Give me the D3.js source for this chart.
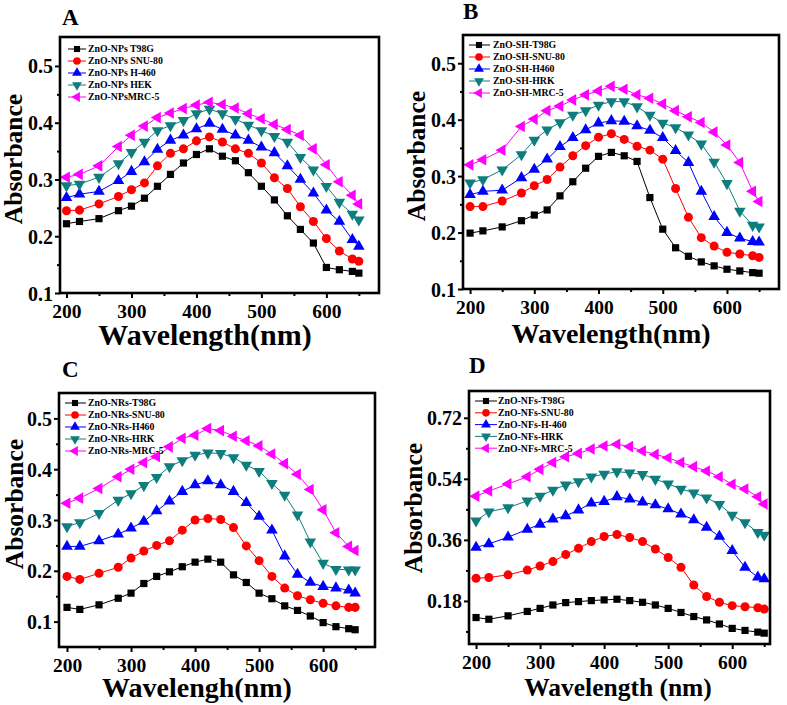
<!DOCTYPE html>
<html>
<head>
<meta charset="utf-8">
<script src="https://cdn.jsdelivr.net/npm/d3@7"></script>
<style>
  html, body { margin: 0; padding: 0; background: #fff; }
  svg { display: block; }
  text { font-family: "Liberation Serif", "Times New Roman", serif; font-weight: bold; fill: #000; }
</style>
</head>
<body>
<svg id="chart" width="787" height="705"></svg>
<script>
// ---------------- DATA ----------------
const wavelengths = [200,220,250,280,300,320,340,360,380,400,420,440,460,480,500,520,540,560,580,600,620,640,650];

// Panel A (ZnO-NPs)
const aT98G  = [0.222,0.226,0.231,0.245,0.253,0.267,0.288,0.309,0.329,0.344,0.354,0.341,0.333,0.312,0.288,0.264,0.236,0.212,0.188,0.145,0.141,0.138,0.135];
const aSNU80 = [0.245,0.246,0.257,0.270,0.282,0.294,0.324,0.346,0.354,0.368,0.375,0.366,0.354,0.346,0.329,0.303,0.284,0.252,0.226,0.196,0.174,0.160,0.156];
const aH460  = [0.268,0.274,0.279,0.298,0.314,0.331,0.353,0.369,0.378,0.389,0.399,0.388,0.378,0.369,0.357,0.347,0.324,0.300,0.276,0.246,0.226,0.194,0.182];
const aHEK   = [0.289,0.292,0.304,0.328,0.348,0.366,0.386,0.395,0.404,0.416,0.424,0.416,0.406,0.396,0.386,0.376,0.366,0.339,0.317,0.288,0.260,0.239,0.229];
const aMRC5  = [0.304,0.309,0.324,0.358,0.378,0.394,0.409,0.417,0.425,0.431,0.436,0.432,0.426,0.416,0.407,0.397,0.388,0.378,0.354,0.326,0.296,0.272,0.257];

// Panel B (ZnO-SH)
const bT98G  = [0.199,0.203,0.210,0.221,0.231,0.240,0.265,0.290,0.314,0.335,0.342,0.336,0.326,0.262,0.206,0.173,0.158,0.148,0.141,0.135,0.132,0.129,0.128];
const bSNU80 = [0.246,0.246,0.256,0.270,0.283,0.294,0.316,0.336,0.354,0.369,0.375,0.365,0.353,0.346,0.330,0.278,0.227,0.191,0.176,0.165,0.162,0.159,0.156];
const bH460  = [0.267,0.273,0.275,0.297,0.312,0.330,0.352,0.368,0.382,0.394,0.398,0.397,0.389,0.381,0.368,0.345,0.324,0.273,0.228,0.200,0.190,0.184,0.183];
const bHRK   = [0.288,0.294,0.311,0.338,0.364,0.382,0.395,0.408,0.416,0.426,0.432,0.432,0.423,0.408,0.394,0.386,0.373,0.357,0.325,0.287,0.238,0.213,0.210];
const bMRC5  = [0.320,0.329,0.346,0.388,0.401,0.416,0.424,0.435,0.444,0.451,0.459,0.454,0.444,0.438,0.428,0.416,0.405,0.395,0.378,0.355,0.324,0.273,0.255];

// Panel C (ZnO-NRs)
const cT98G  = [0.128,0.124,0.133,0.146,0.156,0.175,0.189,0.198,0.208,0.217,0.223,0.217,0.192,0.177,0.156,0.145,0.131,0.122,0.111,0.098,0.090,0.086,0.084];
const cSNU80 = [0.189,0.183,0.195,0.207,0.225,0.239,0.250,0.259,0.280,0.300,0.303,0.301,0.285,0.249,0.220,0.189,0.166,0.151,0.143,0.136,0.131,0.128,0.128];
const cH460  = [0.248,0.248,0.259,0.272,0.284,0.297,0.318,0.337,0.356,0.369,0.377,0.369,0.356,0.334,0.307,0.280,0.229,0.193,0.177,0.169,0.166,0.162,0.156];
const cHRK   = [0.287,0.295,0.313,0.339,0.352,0.368,0.384,0.405,0.417,0.428,0.432,0.431,0.423,0.408,0.396,0.372,0.349,0.310,0.257,0.215,0.203,0.202,0.202];
const cMRC5  = [0.333,0.343,0.362,0.385,0.400,0.413,0.425,0.444,0.461,0.467,0.480,0.476,0.465,0.456,0.446,0.430,0.411,0.390,0.360,0.320,0.275,0.248,0.240];

// Panel D (ZnO-NFs)
const dT98G  = [0.131,0.126,0.136,0.149,0.158,0.168,0.175,0.178,0.181,0.183,0.185,0.181,0.176,0.168,0.158,0.146,0.134,0.124,0.112,0.099,0.093,0.088,0.085];
const dSNU80 = [0.247,0.249,0.257,0.271,0.283,0.296,0.317,0.335,0.355,0.370,0.376,0.367,0.355,0.333,0.308,0.279,0.227,0.193,0.176,0.166,0.163,0.160,0.156];
const dH460  = [0.338,0.348,0.368,0.391,0.406,0.421,0.431,0.448,0.468,0.473,0.487,0.480,0.471,0.463,0.451,0.436,0.419,0.397,0.370,0.328,0.279,0.250,0.245];
const dHRK   = [0.416,0.443,0.455,0.475,0.489,0.507,0.522,0.532,0.546,0.554,0.561,0.558,0.553,0.539,0.525,0.510,0.499,0.484,0.465,0.433,0.411,0.382,0.374];
const dMRC5  = [0.489,0.504,0.525,0.546,0.568,0.588,0.605,0.615,0.628,0.637,0.642,0.635,0.622,0.612,0.602,0.588,0.576,0.563,0.546,0.524,0.510,0.487,0.466];

// Legend labels
const labelsA = ["ZnO-NPs T98G","ZnO-NPs SNU-80","ZnO-NPs H-460","ZnO-NPs HEK","ZnO-NPsMRC-5"];
const labelsB = ["ZnO-SH-T98G","ZnO-SH-SNU-80","ZnO-SH-H460","ZnO-SH-HRK","ZnO-SH-MRC-5"];
const labelsC = ["ZnO-NRs-T98G","ZnO-NRs-SNU-80","ZnO-NRs-H460","ZnO-NRs-HRK","ZnO-NRs-MRC-5"];
const labelsD = ["ZnO-NFs-T98G","ZnO-NFs-SNU-80","ZnO-NFs-H-460","ZnO-NFs-HRK","ZnO-NFs-MRC-5"];

// Tick labels
const xTicks = [200,300,400,500,600];
const xMinorTicks = [250,350,450,550,650];
const yTicksABC = [0.1,0.2,0.3,0.4,0.5];
const yMinorABC = [0.15,0.25,0.35,0.45];
const yTicksD = [0.18,0.36,0.54,0.72];
const yMinorD = [0.09,0.27,0.45,0.63];

// ---------------- STYLE / LAYOUT ----------------
const FONT = '"Liberation Serif","Times New Roman",serif';
const colors = ["#000000","#ff0000","#0000ff","#0f7d7d","#ff00ff"];
const shapes = ["square","circle","up","down","left"];

const panels = [
  { letter:"A", lx:62, ly:25, l:60, r:379, t:37, b:293, xd:[190,681], yd:[0.1,0.551],
    yt:yTicksABC, ym:yMinorABC, fmt:d3.format(".1f"),
    series:[aT98G,aSNU80,aH460,aHEK,aMRC5], labels:labelsA,
    xt:"Wavelength(nm)", xtx:205, xty:345, xts:30, ytx:22, yty:159,
    leg:{x1:68, x2:86, mx:77, tx:88, y0:49, dy:12} },
  { letter:"B", lx:463, ly:19, l:463, r:779, t:35, b:289, xd:[189,681], yd:[0.1,0.55],
    yt:yTicksABC, ym:yMinorABC, fmt:d3.format(".1f"),
    series:[bT98G,bSNU80,bH460,bHRK,bMRC5], labels:labelsB,
    xt:"Wavelength(nm)", xtx:611, xty:343, xts:28, ytx:425, yty:156,
    leg:{x1:469, x2:490, mx:479, tx:493, y0:45, dy:12} },
  { letter:"C", lx:62, ly:377, l:59, r:375, t:393, b:647, xd:[187.5,681], yd:[0.05,0.55],
    yt:yTicksABC, ym:yMinorABC, fmt:d3.format(".1f"),
    series:[cT98G,cSNU80,cH460,cHRK,cMRC5], labels:labelsC,
    xt:"Wavelengh(nm)", xtx:197, xty:697, xts:28, ytx:23, yty:504,
    leg:{x1:65, x2:86, mx:75, tx:88, y0:403, dy:12} },
  { letter:"D", lx:469, ly:373, l:469, r:770, t:391, b:644, xd:[189,659], yd:[0.053,0.799],
    yt:yTicksD, ym:yMinorD, fmt:d3.format(".2f"),
    series:[dT98G,dSNU80,dH460,dHRK,dMRC5], labels:labelsD,
    xt:"Wavelength (nm)", xtx:618, xty:696, xts:25.5, ytx:422, yty:508,
    leg:{x1:475, x2:497, mx:486, tx:498, y0:401, dy:11.8} }
];

function markerPath(shape, s) {
  const r = s / 2;
  switch (shape) {
    case "square": return d3.symbol().type(d3.symbolSquare).size(s * s)();
    case "circle": return d3.symbol().type(d3.symbolCircle).size(Math.PI * r * r * 1.15)();
    default: return d3.symbol().type(d3.symbolTriangle).size(s * s * 0.5)();
  }
}
function markerRot(shape) {
  if (shape === "down") return 180;
  if (shape === "left") return -90;
  return 0;
}
const markerSize = { square: 7.2, circle: 8.4, up: 10.8, down: 10.8, left: 10.8 };

const svg = d3.select("#chart");

panels.forEach(p => {
  const g = svg.append("g");
  const x = d3.scaleLinear().domain(p.xd).range([p.l, p.r]);
  const y = d3.scaleLinear().domain(p.yd).range([p.b, p.t]);

  // Data lines and markers
  p.series.forEach((vals, i) => {
    const pts = wavelengths.map((w, k) => [w, vals[k]]);
    g.append("path")
      .attr("d", d3.line().x(d => x(d[0])).y(d => y(d[1]))(pts))
      .attr("fill", "none").attr("stroke", colors[i]).attr("stroke-width", 1);
    const sh = shapes[i];
    g.selectAll(null).data(pts).enter().append("path")
      .attr("d", markerPath(sh, markerSize[sh]))
      .attr("transform", d => `translate(${x(d[0])},${y(d[1])}) rotate(${markerRot(sh)})`)
      .attr("fill", colors[i]);
  });

  // Axes (ticks outward)
  const xAxis = d3.axisBottom(x).tickValues(xTicks).tickSize(5).tickFormat(d3.format("d"));
  const xAxisMinor = d3.axisBottom(x).tickValues(xMinorTicks.filter(v => v <= p.xd[1])).tickSize(3).tickFormat("");
  const yAxis = d3.axisLeft(y).tickValues(p.yt).tickSize(5).tickFormat(p.fmt);
  const yAxisMinor = d3.axisLeft(y).tickValues(p.ym).tickSize(3).tickFormat("");

  const gx = g.append("g").attr("transform", `translate(0,${p.b})`).call(xAxis);
  const gxm = g.append("g").attr("transform", `translate(0,${p.b})`).call(xAxisMinor);
  const gy = g.append("g").attr("transform", `translate(${p.l},0)`).call(yAxis);
  const gym = g.append("g").attr("transform", `translate(${p.l},0)`).call(yAxisMinor);
  [gx, gxm, gy, gym].forEach(a => {
    a.attr("font-family", FONT);
    a.select(".domain").remove();
    a.selectAll(".tick line").attr("stroke", "#000").attr("stroke-width", 2);
  });
  gx.selectAll(".tick text").attr("font-size", 19.5).attr("y", 11.5).attr("dy", "0.71em")
    .style("font-family", FONT).style("font-weight", "bold");
  gy.selectAll(".tick text").attr("font-size", 20).attr("x", -7).attr("dy", "0.35em")
    .style("font-family", FONT).style("font-weight", "bold");

  // Frame
  g.append("rect").attr("x", p.l).attr("y", p.t).attr("width", p.r - p.l).attr("height", p.b - p.t)
    .attr("fill", "none").attr("stroke", "#000").attr("stroke-width", 2.6);

  // Legend
  p.labels.forEach((lab, i) => {
    const yy = p.leg.y0 + i * p.leg.dy;
    g.append("line").attr("x1", p.leg.x1).attr("x2", p.leg.x2).attr("y1", yy).attr("y2", yy)
      .attr("stroke", colors[i]).attr("stroke-width", 1);
    const sh = shapes[i];
    g.append("path").attr("d", markerPath(sh, markerSize[sh] * 0.85))
      .attr("transform", `translate(${p.leg.mx},${yy}) rotate(${markerRot(sh)})`)
      .attr("fill", colors[i]);
    g.append("text").attr("x", p.leg.tx).attr("y", yy + 3.4).attr("font-size", 9.8)
      .style("font-family", FONT).text(lab);
  });

  // Titles
  g.append("text").attr("x", p.lx).attr("y", p.ly).attr("font-size", 23).style("font-family", FONT).text(p.letter);
  g.append("text").attr("x", p.xtx).attr("y", p.xty).attr("text-anchor", "middle")
    .attr("font-size", p.xts).style("font-family", FONT).text(p.xt);
  g.append("text").attr("transform", `translate(${p.ytx},${p.yty}) rotate(-90)`)
    .attr("text-anchor", "middle").attr("font-size", 25.5).style("font-family", FONT).text("Absorbance");
});
</script>
</body>
</html>
